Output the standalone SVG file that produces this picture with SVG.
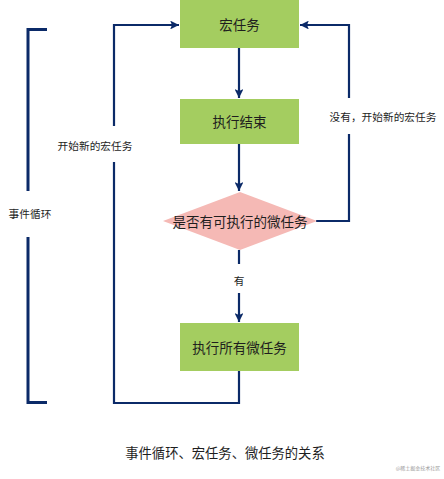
<svg xmlns="http://www.w3.org/2000/svg" width="444" height="479" viewBox="0 0 444 479">
<style>
.box{fill:#a4cd60;}
.dia{fill:#f5b9b5;}
.ln{fill:none;stroke:#0b2a68;stroke-width:2.2;}
.br{fill:none;stroke:#0b2a68;stroke-width:3;}
.t{font-family:"Noto Sans CJK SC","Liberation Sans",sans-serif;fill:#1e1e1e;text-anchor:middle;dominant-baseline:central;}
.big{font-size:13.5px;}
.sm{font-size:10.7px;}
</style>
<defs>
<marker id="ah" viewBox="0 0 10 10" refX="10" refY="5" markerWidth="4" markerHeight="4" orient="auto" markerUnits="strokeWidth">
<path d="M0,0 L10,5 L0,10 L2,5 Z" fill="#0b2a68"/>
</marker>
</defs>
<rect width="444" height="479" fill="#ffffff"/>
<g id="connectors">
<line class="ln" x1="239" y1="48" x2="239" y2="98" marker-end="url(#ah)"/>
<line class="ln" x1="239" y1="144" x2="239" y2="191" marker-end="url(#ah)"/>
<line class="ln" x1="239" y1="250" x2="239" y2="264"/>
<line class="ln" x1="239" y1="293" x2="239" y2="322" marker-end="url(#ah)"/>
<polyline class="ln" points="316,221 349,221 349,134"/>
<polyline class="ln" points="349,98 349,25 300,25" marker-end="url(#ah)"/>
<polyline class="ln" points="239,371 239,403 114,403 114,162"/>
<polyline class="ln" points="114,126 114,25 179,25" marker-end="url(#ah)"/>
<text class="t sm" x="95" y="145">开始新的宏任务</text>
<text class="t sm" x="383" y="116">没有，开始新的宏任务</text>
<text class="t sm" x="239" y="280">有</text>
</g>
<g id="bracket">
<polyline class="br" points="47,29.5 28,29.5 28,191"/>
<polyline class="br" points="28,237 28,402.5 47,402.5"/>
<text class="t sm" x="30" y="213">事件循环</text>
</g>
<g id="node-macro">
<rect class="box" x="180" y="0" width="119" height="48"/>
<text class="t big" x="239.5" y="24">宏任务</text>
</g>
<g id="node-end">
<rect class="box" x="180" y="99" width="119" height="45"/>
<text class="t big" x="239.5" y="121">执行结束</text>
</g>
<g id="node-decision">
<polygon class="dia" points="240,192 317,221 240,250 163,221"/>
<text class="t big" x="240" y="221">是否有可执行的微任务</text>
</g>
<g id="node-micro">
<rect class="box" x="180" y="323" width="119" height="48"/>
<text class="t big" x="239.5" y="347">执行所有微任务</text>
</g>
<g id="caption">
<text class="t" style="font-size:13.3px" x="225" y="452">事件循环、宏任务、微任务的关系</text>
<text class="t" style="font-size:5px;fill:#999" x="418" y="467">@稀土掘金技术社区</text>
</g>
</svg>
